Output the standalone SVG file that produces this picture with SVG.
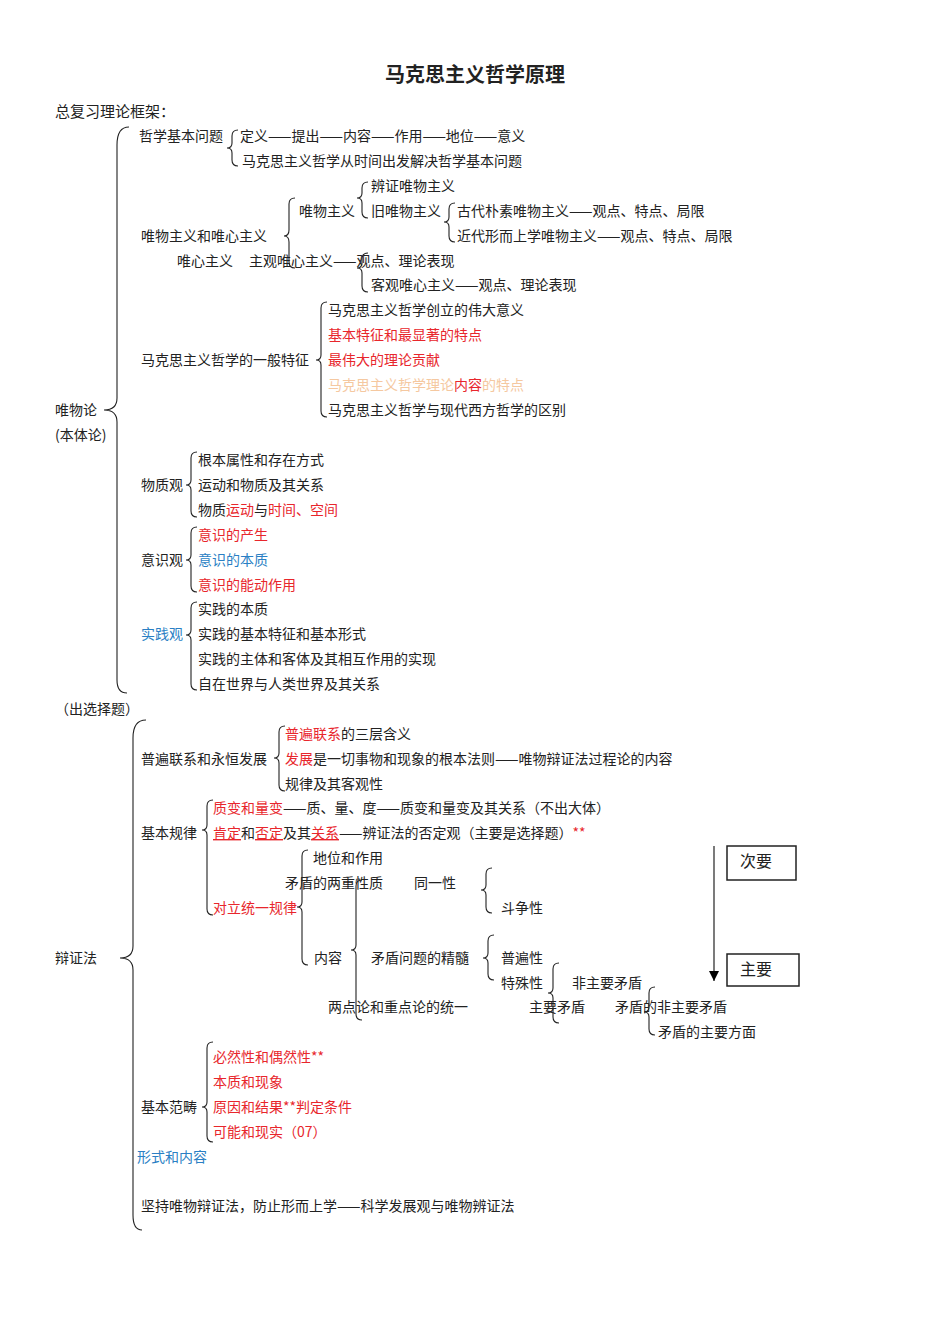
<svg xmlns="http://www.w3.org/2000/svg" width="950" height="1344" viewBox="0 0 950 1344">
<defs><marker id="ah" markerWidth="10" markerHeight="10" refX="10" refY="5" orient="auto" markerUnits="userSpaceOnUse"><path d="M0,0 L10,5 L0,10 Z" fill="#000"/></marker></defs>
<style>
text{font-family:"Noto Sans CJK SC","Liberation Serif",serif;font-size:14px;fill:#222}
.r{fill:#e8262c}.b{fill:#2a7fc4}.o{fill:#f5c8a0}
.u{text-decoration:underline}
.br{fill:none;stroke:#222;stroke-width:1.1}
</style>
<rect width="950" height="1344" fill="#fff"/>
<text x="475" y="82" text-anchor="middle" style="font-size:20px;font-weight:bold">马克思主义哲学原理</text>
<text x="55" y="117" style="font-size:15px">总复习理论框架：</text>
<g id="connectors">
<path class="br" d="M129,127 Q117,127 117,145 L117,398 Q117,410 104,410 Q117,410 117,422 L117,680 Q117,693 127,693"/>
<path class="br" d="M238,130 Q232,130 232,136 L232,143 Q232,148 227,148 Q232,148 232,153 L232,160 Q232,166 238,166"/>
<path class="br" d="M295,198 Q289,198 289,204 L289,230 Q289,236 284,236 Q289,236 289,242 L289,262 Q289,268 295,268"/>
<path class="br" d="M368,182 Q362,182 362,188 L362,193 Q362,198 357,198 Q362,198 362,203 L362,212 Q362,218 368,218"/>
<path class="br" d="M455,203 Q449,203 449,209 L449,217 Q449,222 444,222 Q449,222 449,227 L449,236 Q449,242 455,242"/>
<path class="br" d="M368,253 Q362,253 362,259 L362,263 Q362,268 357,268 Q362,268 362,273 L362,286 Q362,292 368,292"/>
<path class="br" d="M327,302 Q321,302 321,308 L321,355 Q321,360 316,360 Q321,360 321,365 L321,411 Q321,417 327,417"/>
<path class="br" d="M197,452 Q191,452 191,458 L191,480 Q191,485 186,485 Q191,485 191,490 L191,511 Q191,517 197,517"/>
<path class="br" d="M197,527 Q191,527 191,533 L191,555 Q191,560 186,560 Q191,560 191,565 L191,586 Q191,592 197,592"/>
<path class="br" d="M197,602 Q191,602 191,608 L191,630 Q191,635 186,635 Q191,635 191,640 L191,684 Q191,690 197,690"/>
<path class="br" d="M146,720 Q133,720 133,738 L133,946 Q133,958 120,958 Q133,958 133,970 L133,1215 Q133,1230 142,1230"/>
<path class="br" d="M285,726 Q279,726 279,732 L279,753 Q279,758 274,758 Q279,758 279,763 L279,785 Q279,791 285,791"/>
<path class="br" d="M213,800 Q207,800 207,806 L207,825 Q207,830 202,830 Q207,830 207,835 L207,909 Q207,915 213,915"/>
<path class="br" d="M308,850 Q302,850 302,856 L302,902 Q302,907 297,907 Q302,907 302,912 L302,959 Q302,965 308,965"/>
<path class="br" d="M362,880 Q356,880 356,886 L356,945 Q356,950 351,950 Q356,950 356,955 L356,1014 Q356,1020 362,1020"/>
<path class="br" d="M492,868 Q486,868 486,874 L486,885 Q486,890 481,890 Q486,890 486,895 L486,907 Q486,913 492,913"/>
<path class="br" d="M494,935 Q488,935 488,941 L488,953 Q488,958 483,958 Q488,958 488,963 L488,974 Q488,980 494,980"/>
<path class="br" d="M559,963 Q553,963 553,969 L553,988 Q553,993 548,993 Q553,993 553,998 L553,1017 Q553,1023 559,1023"/>
<path class="br" d="M655,987 Q649,987 649,993 L649,1007 Q649,1012 644,1012 Q649,1012 649,1017 L649,1029 Q649,1035 655,1035"/>
<path class="br" d="M213,1042 Q207,1042 207,1048 L207,1102 Q207,1107 202,1107 Q207,1107 207,1112 L207,1136 Q207,1142 213,1142"/>
<line x1="714" y1="846" x2="714" y2="981" stroke="#222" stroke-width="1.2" marker-end="url(#ah)"/>
</g>
<g id="n-boxes">
<rect x="727" y="846" width="69" height="34" fill="none" stroke="#222" stroke-width="1.5"/>
<text x="740" y="867" style="font-size:16px">次要</text>
<rect x="727" y="954" width="72" height="32" fill="none" stroke="#222" stroke-width="1.5"/>
<text x="740" y="975" style="font-size:16px">主要</text>
</g>
<g id="n-texts">
<text x="139" y="141">哲学基本问题</text>
<text x="240" y="141">定义——提出——内容——作用——地位——意义</text>
<text x="242" y="166">马克思主义哲学从时间出发解决哲学基本问题</text>
<text x="371" y="191">辨证唯物主义</text>
<text x="299" y="216">唯物主义</text>
<text x="371" y="216">旧唯物主义</text>
<text x="457" y="216">古代朴素唯物主义——观点、特点、局限</text>
<text x="141" y="241">唯物主义和唯心主义</text>
<text x="457" y="241">近代形而上学唯物主义——观点、特点、局限</text>
<text x="177" y="266">唯心主义</text>
<text x="249" y="266">主观唯心主义——观点、理论表现</text>
<text x="371" y="290">客观唯心主义——观点、理论表现</text>
<text x="328" y="315">马克思主义哲学创立的伟大意义</text>
<text x="328" y="340" class="r">基本特征和最显著的特点</text>
<text x="141" y="365">马克思主义哲学的一般特征</text>
<text x="328" y="365" class="r">最伟大的理论贡献</text>
<text x="328" y="390"><tspan class="o">马克思主义哲学理论</tspan><tspan class="r">内容</tspan><tspan class="o">的特点</tspan></text>
<text x="55" y="415">唯物论</text>
<text x="328" y="415">马克思主义哲学与现代西方哲学的区别</text>
<text x="55" y="440">(本体论)</text>
<text x="198" y="465">根本属性和存在方式</text>
<text x="141" y="490">物质观</text>
<text x="198" y="490">运动和物质及其关系</text>
<text x="198" y="515">物质<tspan class="r">运动</tspan>与<tspan class="r">时间、空间</tspan></text>
<text x="198" y="540" class="r">意识的产生</text>
<text x="141" y="565">意识观</text>
<text x="198" y="565" class="b">意识的本质</text>
<text x="198" y="590" class="r">意识的能动作用</text>
<text x="198" y="614">实践的本质</text>
<text x="141" y="639" class="b">实践观</text>
<text x="198" y="639">实践的基本特征和基本形式</text>
<text x="198" y="664">实践的主体和客体及其相互作用的实现</text>
<text x="198" y="689">自在世界与人类世界及其关系</text>
<text x="55" y="714">（出选择题）</text>
<text x="285" y="739"><tspan class="r">普遍联系</tspan>的三层含义</text>
<text x="141" y="764">普遍联系和永恒发展</text>
<text x="285" y="764"><tspan class="r">发展</tspan>是一切事物和现象的根本法则——唯物辩证法过程论的内容</text>
<text x="285" y="789">规律及其客观性</text>
<text x="213" y="813"><tspan class="r">质变和量变</tspan>——质、量、度——质变和量变及其关系（不出大体）</text>
<text x="141" y="838">基本规律</text>
<text x="213" y="838"><tspan class="r u">肯定</tspan>和<tspan class="r u">否定</tspan>及其<tspan class="r u">关系</tspan>——辨证法的否定观（主要是选择题）<tspan class="r">**</tspan></text>
<text x="313" y="863">地位和作用</text>
<text x="285" y="888">矛盾的两重性质</text>
<text x="414" y="888">同一性</text>
<text x="213" y="913" class="r">对立统一规律</text>
<text x="501" y="913">斗争性</text>
<text x="55" y="963">辩证法</text>
<text x="314" y="963">内容</text>
<text x="371" y="963">矛盾问题的精髓</text>
<text x="501" y="963">普遍性</text>
<text x="501" y="988">特殊性</text>
<text x="572" y="988">非主要矛盾</text>
<text x="328" y="1012">两点论和重点论的统一</text>
<text x="529" y="1012">主要矛盾</text>
<text x="615" y="1012">矛盾的非主要矛盾</text>
<text x="658" y="1037">矛盾的主要方面</text>
<text x="213" y="1062" class="r">必然性和偶然性**</text>
<text x="213" y="1087" class="r">本质和现象</text>
<text x="141" y="1112">基本范畴</text>
<text x="213" y="1112" class="r">原因和结果**判定条件</text>
<text x="213" y="1137" class="r">可能和现实（07）</text>
<text x="137" y="1162" class="b">形式和内容</text>
<text x="141" y="1211">坚持唯物辩证法，防止形而上学——科学发展观与唯物辨证法</text>
</g>
</svg>
